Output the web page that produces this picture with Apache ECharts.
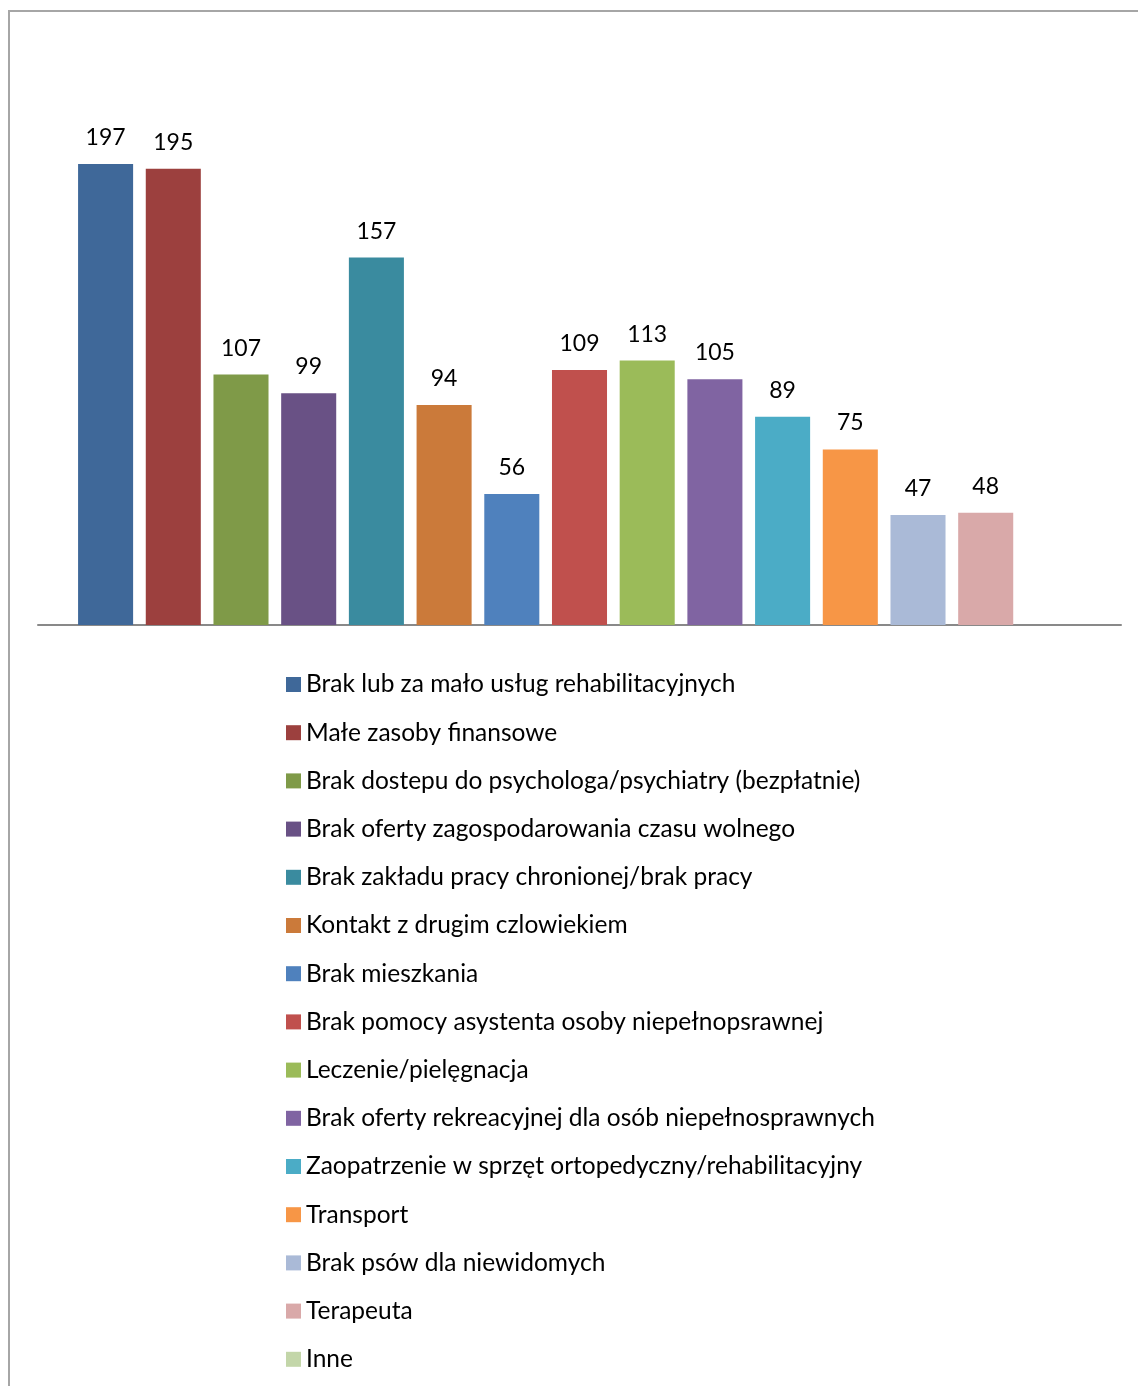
<!DOCTYPE html>
<html>
<head>
<meta charset="utf-8">
<script src="https://cdn.jsdelivr.net/npm/echarts@6/dist/echarts.min.js"></script>
<style>
  html, body { margin: 0; padding: 0; background: #fff; }
  .frame { position: absolute; left: 8px; top: 10px; width: 1130px; height: 1376px;
           border-left: 2px solid #a6a6a6; border-top: 2px solid #a6a6a6; box-sizing: border-box; }
  #myChart { position: absolute; left: 0; top: 0; }
</style>
</head>
<body>
<div class="frame"></div>
<div id="myChart" style="width: 1138px; height: 1386px;"></div>
<script>
// kategorie (seria = jedna pozycja)
const names = [
  'Brak lub za mało usług rehabilitacyjnych',
  'Małe zasoby finansowe',
  'Brak dostepu do psychologa/psychiatry (bezpłatnie)',
  'Brak oferty zagospodarowania czasu wolnego',
  'Brak zakładu pracy chronionej/brak pracy',
  'Kontakt z drugim czlowiekiem',
  'Brak mieszkania',
  'Brak pomocy asystenta osoby niepełnopsrawnej',
  'Leczenie/pielęgnacja',
  'Brak oferty rekreacyjnej dla osób niepełnosprawnych',
  'Zaopatrzenie w sprzęt ortopedyczny/rehabilitacyjny',
  'Transport',
  'Brak psów dla niewidomych',
  'Terapeuta',
  'Inne'
]
const values = [197, 195, 107, 99, 157, 94, 56, 109, 113, 105, 89, 75, 47, 48, null]
const colors = ['#3F6899', '#9C403E', '#7F9A48', '#695185', '#3A8B9F', '#CB7A3A', '#4F81BD',
  '#C0504D', '#9BBB59', '#8064A2', '#4BACC6', '#F79646', '#AABAD7', '#D9A9A9', '#C3D6A9']

const font = 'Lato, "Liberation Sans", sans-serif'

const myChart = echarts.init(document.getElementById('myChart'))

var seriesList = names.map((name, i) => ({
  name: name,
  type: 'bar',
  data: [values[i]],
  barGap: '23%',
  barCategoryGap: '7.4%',
  itemStyle: { color: colors[i] },
  label: {
    show: true,
    position: 'top',
    distance: 15,
    color: '#000',
    fontSize: 23,
    fontFamily: font
  }
}))

var option = {
  animation: false,
  legend: {
    orient: 'vertical',
    left: 281,
    top: 667,
    height: 719,
    icon: 'rect',
    itemWidth: 15,
    itemHeight: 15,
    itemGap: 23.2,
    textStyle: { color: '#000', fontSize: 24.5, lineHeight: 24, fontFamily: font },
    data: names
  },
  grid: {
    left: 38,
    right: 17,
    top: 40,
    bottom: 761
  },
  xAxis: {
    type: 'category',
    data: [''],
    axisLine: { show: true, lineStyle: { color: '#898989', width: 2 } },
    axisTick: { show: false },
    axisLabel: { show: false }
  },
  yAxis: {
    type: 'value',
    min: 0,
    max: 250,
    show: false,
    splitLine: { show: false }
  },
  series: seriesList
}
myChart.setOption(option)
</script>
</body>
</html>
